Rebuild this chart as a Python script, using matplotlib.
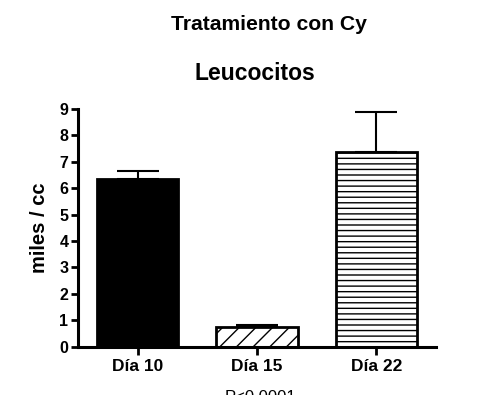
import matplotlib
matplotlib.use("Agg")
import matplotlib.pyplot as plt

plt.rcParams['font.family'] = ['Liberation Sans', 'DejaVu Sans']
plt.rcParams['hatch.linewidth'] = 1.0

# data
dias = ["Día 10", "Día 15", "Día 22"]
leucocitos = [6.35, 0.76, 7.37]
error_sup = [0.30, 0.05, 1.50]
tramas = ["", "//", "---"]
rellenos = ["black", "white", "white"]

fig = plt.figure(figsize=(5, 3.95), dpi=100)
ax = fig.add_axes([0.156, 0.1223, 0.716, 0.6018])

pos = list(range(len(dias)))
for i in pos:
    ax.bar(pos[i], leucocitos[i], width=0.68, color=rellenos[i],
           edgecolor="black", linewidth=2, hatch=tramas[i], zorder=2)

# only upper error bars
ax.errorbar(pos, leucocitos, yerr=[[0, 0, 0], error_sup], fmt="none",
            ecolor="black", elinewidth=1.5, capsize=15, capthick=1.5, zorder=1)

ax.set_xlim(-0.5, 2.5)
ax.set_ylim(0, 9)
ax.set_yticks(range(0, 10))
ax.set_xticks(pos)
ax.set_xticklabels(dias, fontsize=12.5, fontweight="bold")
for lab in ax.get_yticklabels():
    lab.set_fontsize(11.5)
    lab.set_fontweight("bold")

ax.spines["top"].set_visible(False)
ax.spines["right"].set_visible(False)
ax.spines["left"].set_linewidth(2.2)
ax.spines["bottom"].set_linewidth(2.2)
ax.tick_params(axis="y", length=5, width=2, pad=2)
ax.tick_params(axis="x", length=6, width=2, pad=3)

ax.set_ylabel("miles / cc", fontsize=14.5, fontweight="bold")
ax.yaxis.set_label_coords(-0.081, 0.5)

fig.text(0.537, 0.937, "Tratamiento con Cy", ha="center", va="center",
         fontsize=15.2, fontweight="bold")
fig.text(0.51, 0.815, "Leucocitos", ha="center", va="center",
         fontsize=16.5, fontweight="bold")
fig.text(0.52, 1 - 390 / 395, "P<0.0001", ha="center", va="top", fontsize=12)

fig.savefig("out.png", dpi=100)
